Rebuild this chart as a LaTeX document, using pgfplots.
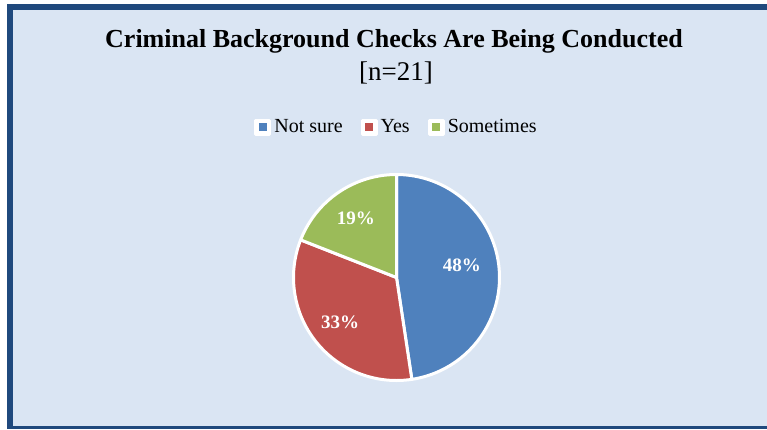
\documentclass[border=0pt]{standalone}
\usepackage{pgfplots}
\pgfplotsset{compat=1.18}
\usepackage{pgfplotstable}
\usepackage{fontspec}
\setmainfont{Liberation Serif}
\definecolor{bgblue}{HTML}{DAE5F3}
\definecolor{frameblue}{HTML}{1F497D}
\definecolor{pieblue}{HTML}{4F81BD}
\definecolor{piered}{HTML}{C0504D}
\definecolor{piegreen}{HTML}{9BBB59}
\pgfplotstableread{
label value
NotSure 10
Yes 7
Sometimes 4
}\piedata
\pgfplotstablegetelem{0}{value}\of\piedata \let\vA\pgfplotsretval
\pgfplotstablegetelem{1}{value}\of\piedata \let\vB\pgfplotsretval
\pgfplotstablegetelem{2}{value}\of\piedata \let\vC\pgfplotsretval
\pgfmathsetmacro\tot{\vA+\vB+\vC}
\pgfmathsetmacro\aA{90}
\pgfmathsetmacro\aB{90-360*\vA/\tot}
\pgfmathsetmacro\aC{\aB-360*\vB/\tot}
\pgfmathsetmacro\aD{\aC-360*\vC/\tot}
\pgfmathsetmacro\mA{(\aA+\aB)/2+6}
\pgfmathsetmacro\mB{(\aB+\aC)/2}
\pgfmathsetmacro\mC{(\aC+\aD)/2}
\begin{document}
\begin{tikzpicture}[x=1pt,y=1pt]
\begin{scope}[shift={(-396.5pt,-151.5pt)}]
\fill[white] (0,0) rectangle (767,429);
\fill[frameblue] (7,0) rectangle (767,425);
\fill[bgblue] (13,3.5) rectangle (767,419);
\node[font=\fontsize{26}{30}\selectfont\bfseries] at (394,388) {Criminal Background Checks Are Being Conducted};
\node[font=\fontsize{27}{30}\selectfont] at (396,356) {[n=21]};
\end{scope}
\begin{axis}[
  anchor=origin,
  scale only axis, width=206pt, height=206pt,
  xmin=-1, xmax=1, ymin=-1, ymax=1,
  hide axis, clip=false,
  legend style={at={(0.5,1.23)}, anchor=center, legend columns=3, draw=none, fill=none,
    font=\fontsize{20}{22}\selectfont, inner xsep=0pt,
    /tikz/every odd column/.append style={column sep=1pt},
    /tikz/every even column/.append style={column sep=16pt}},
  legend image code/.code={\fill[white] (0pt,-7pt) rectangle (14pt,7pt); \fill[#1,draw=none] (3pt,-4pt) rectangle (11pt,4pt);},
]
\addplot[fill=pieblue, draw=white, line width=3pt, line join=round, domain=\aB:\aA, samples=90] ({cos(x)},{sin(x)}) -- (axis cs:0,0) -- cycle;
\addlegendentry{Not sure}
\addplot[fill=piered, draw=white, line width=3pt, line join=round, domain=\aC:\aB, samples=70] ({cos(x)},{sin(x)}) -- (axis cs:0,0) -- cycle;
\addlegendentry{Yes}
\addplot[fill=piegreen, draw=white, line width=3pt, line join=round, domain=\aD:\aC, samples=50] ({cos(x)},{sin(x)}) -- (axis cs:0,0) -- cycle;
\addlegendentry{Sometimes}
\node[white, font=\fontsize{19}{21}\selectfont\bfseries] at (axis cs:{0.645*cos(\mA)},{0.645*sin(\mA)}) {48\%};
\node[white, font=\fontsize{19}{21}\selectfont\bfseries] at (axis cs:{0.70*cos(\mB)},{0.70*sin(\mB)}) {33\%};
\node[white, font=\fontsize{19}{21}\selectfont\bfseries] at (axis cs:{0.70*cos(\mC)},{0.70*sin(\mC)}) {19\%};
\end{axis}
\end{tikzpicture}
\end{document}
